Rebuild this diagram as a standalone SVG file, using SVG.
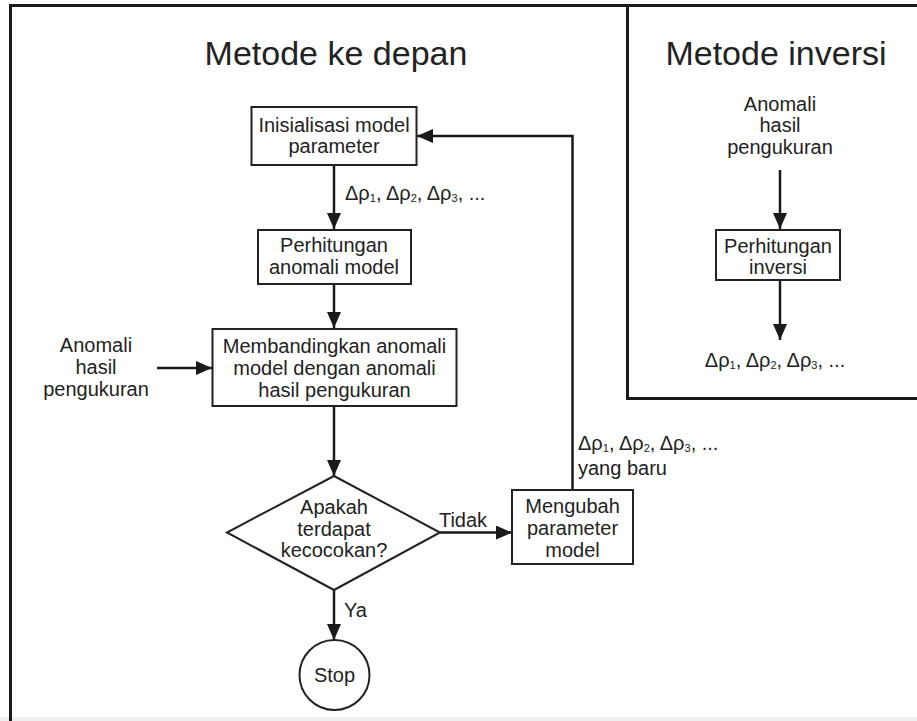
<svg xmlns="http://www.w3.org/2000/svg" width="917" height="721" viewBox="0 0 917 721">
<style>
  text { font-family: "Liberation Sans", Arial, sans-serif; fill: #222; }
  .t { font-size: 20px; text-anchor: middle; }
  .title { font-size: 34px; text-anchor: middle; }
  .d { font-size: 20px; }
  .sub { font-size: 11px; }
  .box { fill: #fff; stroke: #222; stroke-width: 2; }
  .frame { fill: none; stroke: #1a1a1a; stroke-width: 3; }
  .conn { fill: none; stroke: #1a1a1a; stroke-width: 2.5; }
</style>
<defs>
  <marker id="ah" markerUnits="userSpaceOnUse" markerWidth="16" markerHeight="14" refX="16" refY="7" orient="auto">
    <path d="M0,0 L16,7 L0,14 z" fill="#1a1a1a"/>
  </marker>
</defs>
<rect x="0" y="0" width="917" height="721" fill="#fff"/>
<rect x="0" y="717" width="917" height="4" fill="#eeeeee"/>
<g id="frame">
  <line class="frame" x1="9" y1="5.5" x2="917" y2="5.5"/>
  <line class="frame" x1="10.5" y1="4" x2="10.5" y2="721"/>
  <polyline class="frame" points="627.5,5 627.5,398.5 917,398.5"/>
</g>
<g id="titles">
  <text class="title" x="336" y="65">Metode ke depan</text>
  <text class="title" x="776" y="65">Metode inversi</text>
</g>
<g id="connectors">
  <line class="conn" x1="334" y1="165" x2="334" y2="229" marker-end="url(#ah)"/>
  <line class="conn" x1="334" y1="284" x2="334" y2="328" marker-end="url(#ah)"/>
  <line class="conn" x1="157" y1="368" x2="212" y2="368" marker-end="url(#ah)"/>
  <line class="conn" x1="334" y1="406" x2="334" y2="476" marker-end="url(#ah)"/>
  <line class="conn" x1="440" y1="532.5" x2="512" y2="532.5" marker-end="url(#ah)"/>
  <line class="conn" x1="334" y1="590" x2="334" y2="640" marker-end="url(#ah)"/>
  <polyline class="conn" points="572.5,490 572.5,136 417,136" marker-end="url(#ah)"/>
  <line class="conn" x1="780" y1="170" x2="780" y2="229" marker-end="url(#ah)"/>
  <line class="conn" x1="780" y1="280" x2="780" y2="340" marker-end="url(#ah)"/>
</g>
<g id="init">
  <rect class="box" x="251.5" y="107" width="165" height="58"/>
  <text class="t" x="334" y="132">Inisialisasi model</text>
  <text class="t" x="334" y="153">parameter</text>
</g>
<g id="label-delta1">
  <text class="d" x="345" y="200">Δρ<tspan class="sub" dy="2">1</tspan><tspan dy="-2">, Δρ</tspan><tspan class="sub" dy="2">2</tspan><tspan dy="-2">, Δρ</tspan><tspan class="sub" dy="2">3</tspan><tspan dy="-2">, ...</tspan></text>
</g>
<g id="hitung">
  <rect class="box" x="258" y="230" width="153" height="54"/>
  <text class="t" x="334" y="252">Perhitungan</text>
  <text class="t" x="334" y="274">anomali model</text>
</g>
<g id="anomali-kiri">
  <text class="t" x="96" y="352">Anomali</text>
  <text class="t" x="96" y="374">hasil</text>
  <text class="t" x="96" y="396">pengukuran</text>
</g>
<g id="banding">
  <rect class="box" x="212.5" y="329" width="244" height="77"/>
  <text class="t" x="334.5" y="353">Membandingkan anomali</text>
  <text class="t" x="334.5" y="375">model dengan anomali</text>
  <text class="t" x="334.5" y="397">hasil pengukuran</text>
</g>
<g id="cocok">
  <polygon class="box" points="334,476 440,532.5 334,590 227,532.5"/>
  <text class="t" x="334" y="514">Apakah</text>
  <text class="t" x="334" y="536">terdapat</text>
  <text class="t" x="334" y="557">kecocokan?</text>
</g>
<g id="label-tidak">
  <text class="t" x="463" y="527">Tidak</text>
</g>
<g id="ubah">
  <rect class="box" x="512" y="490" width="121" height="74"/>
  <text class="t" x="572.5" y="513">Mengubah</text>
  <text class="t" x="572.5" y="535">parameter</text>
  <text class="t" x="572.5" y="557">model</text>
</g>
<g id="label-delta-baru">
  <text class="d" x="578" y="450">Δρ<tspan class="sub" dy="2">1</tspan><tspan dy="-2">, Δρ</tspan><tspan class="sub" dy="2">2</tspan><tspan dy="-2">, Δρ</tspan><tspan class="sub" dy="2">3</tspan><tspan dy="-2">, ...</tspan></text>
  <text class="d" x="578" y="475">yang baru</text>
</g>
<g id="label-ya">
  <text class="t" x="344" y="617" style="text-anchor:start">Ya</text>
</g>
<g id="stop">
  <circle class="box" cx="334.5" cy="675" r="35"/>
  <text class="t" x="334.5" y="682">Stop</text>
</g>
<g id="anomali-kanan">
  <text class="t" x="780" y="111">Anomali</text>
  <text class="t" x="780" y="132">hasil</text>
  <text class="t" x="780" y="154">pengukuran</text>
</g>
<g id="inversi">
  <rect class="box" x="716" y="230" width="124" height="50"/>
  <text class="t" x="778" y="253">Perhitungan</text>
  <text class="t" x="778" y="274">inversi</text>
</g>
<g id="label-delta-inv">
  <text class="d" x="775" y="367" style="text-anchor:middle">Δρ<tspan class="sub" dy="2">1</tspan><tspan dy="-2">, Δρ</tspan><tspan class="sub" dy="2">2</tspan><tspan dy="-2">, Δρ</tspan><tspan class="sub" dy="2">3</tspan><tspan dy="-2">, ...</tspan></text>
</g>
</svg>
